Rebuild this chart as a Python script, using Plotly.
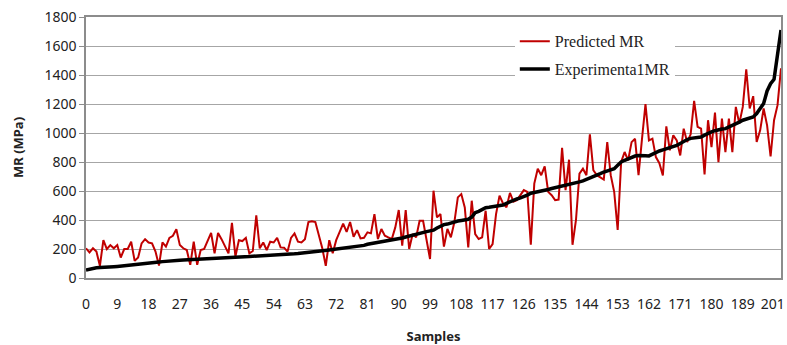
import plotly.graph_objects as go

samples = list(range(201))

predicted_mr = [
    205, 177, 205, 182, 84, 261, 200, 227, 205, 227,
    141, 200, 200, 250, 118, 141, 239, 268, 245, 239,
    182, 86, 245, 216, 277, 291, 336, 227, 205, 193,
    91, 250, 91, 193, 200, 250, 311, 170, 311, 268,
    220, 170, 380, 148, 261, 255, 277, 170, 186, 432,
    205, 245, 193, 250, 245, 277, 211, 209, 182, 277,
    307, 250, 245, 268, 386, 391, 386, 295, 205, 84,
    261, 170, 261, 318, 375, 318, 386, 284, 330, 273,
    277, 315, 308, 441, 269, 338, 292, 280, 269, 349,
    469, 223, 469, 200, 303, 280, 395, 395, 269, 131,
    602, 418, 441, 216, 338, 280, 384, 556, 579, 487,
    211, 533, 303, 269, 280, 464, 200, 234, 441, 568,
    514, 487, 587, 526, 537, 571, 606, 594, 229, 651,
    754, 709, 770, 594, 571, 537, 541, 898, 606, 816,
    229, 400, 720, 754, 709, 990, 743, 709, 693, 679,
    937, 709, 594, 331, 800, 869, 811, 937, 960, 709,
    960, 1199, 949, 961, 834, 792, 707, 1046, 880, 984,
    949, 845, 1030, 938, 991, 1222, 1042, 1030, 714, 1088,
    903, 1141, 799, 1099, 868, 1099, 868, 1180, 1065, 1180,
    1439, 1169, 1254, 938, 1018, 1169, 1053, 838, 1088, 1192,
    1446,
]

experimental_mr = [
    55, 62, 68, 70, 72, 75, 75, 76, 78, 80,
    82, 84, 86, 88, 90, 92, 95, 98, 100, 103,
    106, 110, 113, 116, 118, 120, 122, 123, 124, 125,
    126, 127, 128, 129, 130, 131, 132, 134, 136, 138,
    140, 141, 142, 143, 144, 145, 146, 148, 150, 151,
    152, 153, 154, 155, 156, 158, 159, 161, 163, 165,
    167, 169, 171, 174, 177, 180, 183, 186, 188, 190,
    193, 196, 199, 202, 205, 207, 210, 213, 216, 220,
    225, 233, 237, 241, 245, 248, 251, 254, 258, 263,
    269, 276, 283, 290, 297, 303, 310, 316, 320, 325,
    330, 345, 360, 368, 372, 380, 388, 393, 397, 400,
    405, 420, 450, 460, 470, 485, 488, 492, 498, 500,
    503, 515, 527, 537, 545, 553, 560, 572, 585, 590,
    592, 594, 600, 610, 617, 622, 628, 633, 639, 645,
    651, 657, 663, 670, 679, 688, 697, 708, 720, 731,
    738, 746, 754, 777, 800, 812, 823, 832, 841, 844,
    846, 843, 842, 855, 868, 876, 884, 891, 899, 907,
    915, 928, 942, 955, 963, 968, 970, 972, 985, 1000,
    1008, 1016, 1023, 1027, 1030, 1040, 1050, 1060, 1075, 1088,
    1094, 1099, 1111, 1134, 1165, 1203, 1290, 1340, 1370, 1540,
    1710,
]

x_tick_vals = list(range(0, 190, 9)) + [197.6]
x_tick_text = [str(v) for v in range(0, 190, 9)] + ["201"]
y_tick_vals = list(range(0, 1801, 200))

fig = go.Figure()
fig.add_trace(go.Scatter(
    x=samples, y=predicted_mr, mode="lines", name="Predicted MR",
    line=dict(color="#C00000", width=2), legendgroup="a",
))
fig.add_trace(go.Scatter(
    x=samples, y=experimental_mr, mode="lines", name="Experimenta1MR",
    line=dict(color="#000000", width=3.5), legendgroup="b",
))

tick_font = dict(family="Noto Sans", size=14, color="#222222")
title_font = dict(family="Noto Sans", size=13, color="#222222")

fig.update_layout(
    width=787, height=345,
    margin=dict(l=86, r=6, t=17, b=67),
    paper_bgcolor="white", plot_bgcolor="white",
    showlegend=True,
    legend=dict(
        x=0.617, y=0.972, xanchor="left", yanchor="top",
        bgcolor="white", borderwidth=0,
        font=dict(family="Liberation Serif", size=16, color="#222222"),
        tracegroupgap=4, itemwidth=30,
    ),
    font=dict(family="Noto Sans", size=12, color="#222222"),
)

fig.update_xaxes(
    range=[0, 200], tickvals=x_tick_vals, ticktext=x_tick_text,
    showgrid=False, zeroline=False, automargin=False,
    showline=True, linecolor="#8c8c8c", linewidth=1.5, mirror=True,
    ticks="outside", ticklen=0, ticklabelstandoff=12,
    ticklabeloverflow="allow",
    tickfont=tick_font,
    title=dict(text="<b>Samples</b>", font=title_font, standoff=20),
)
fig.update_yaxes(
    range=[0, 1800], tickvals=y_tick_vals, automargin=False,
    showgrid=True, gridcolor="#a6a6a6", gridwidth=1.3, zeroline=False,
    showline=True, linecolor="#8c8c8c", linewidth=1.5, mirror=True,
    ticks="outside", ticklen=5, tickcolor="#8c8c8c",
    tickfont=tick_font,
    title=dict(text="<b>MR (MPa)</b>", font=title_font, standoff=18),
)

fig.write_html("out.html")
